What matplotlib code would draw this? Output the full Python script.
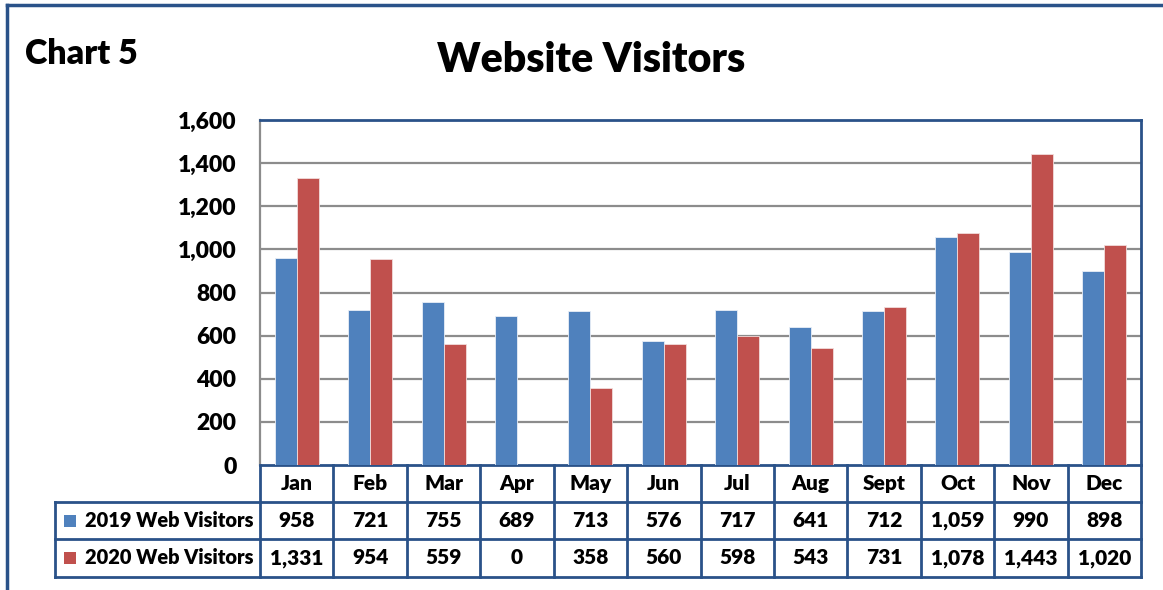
import matplotlib
matplotlib.use("Agg")
import matplotlib.pyplot as plt
import matplotlib.transforms as mtransforms
from matplotlib.patches import Rectangle
import numpy as np

months = ["Jan", "Feb", "Mar", "Apr", "May", "Jun", "Jul", "Aug", "Sept", "Oct", "Nov", "Dec"]
visitors_2019 = [958, 721, 755, 689, 713, 576, 717, 641, 712, 1059, 990, 898]
visitors_2020 = [1331, 954, 559, 0, 358, 560, 598, 543, 731, 1078, 1443, 1020]
series_names = ["2019 Web Visitors", "2020 Web Visitors"]
yticks = [0, 200, 400, 600, 800, 1000, 1200, 1400, 1600]

plt.rcParams['font.family'] = ['Lato', 'DejaVu Sans']
plt.rcParams['font.weight'] = 'bold'

W, H = 1163, 590
fig = plt.figure(figsize=(W / 100, H / 100), dpi=100)

blue = "#4F81BD"
red = "#C0504D"
navy = "#2A5289"
grid = "#8C8C8C"

ax = fig.add_axes([260 / W, 1 - 465 / H, (1141 - 260) / W, (465 - 120) / H])
x = np.arange(len(months))
bw = 0.3
ax.bar(x - bw / 2, visitors_2019, bw, color=blue, edgecolor="#E8EEF7", linewidth=0.6, zorder=3)
ax.bar(x + bw / 2, visitors_2020, bw, color=red, edgecolor="#F2DCDB", linewidth=0.6, zorder=3)
ax.set_xlim(-0.5, len(months) - 0.5)
ax.set_ylim(0, 1600)
ax.set_yticks(yticks)
ax.set_yticklabels([f"{v:,}" for v in yticks], fontsize=16.5, fontweight='heavy')
ax.set_xticks([])
ax.tick_params(axis='y', length=0, pad=17)
for v in yticks[1:-1]:
    ax.axhline(v, color=grid, linewidth=1.6, zorder=1)
ax.spines['left'].set_color(grid)
ax.spines['left'].set_linewidth(1.6)
for s in ['top', 'right', 'bottom']:
    ax.spines[s].set_color(navy)
    ax.spines[s].set_linewidth(2)

# Data table below the axes
trans = mtransforms.blended_transform_factory(ax.transData, ax.transAxes)
axh = 465 - 120
row_edges = [0, -37 / axh, -74 / axh, -112 / axh]
label_left = (55 - 260) / ((1141 - 260) / 12) - 0.5
lw = 2
kw = dict(transform=trans, color=navy, linewidth=lw, clip_on=False, solid_capstyle='projecting')
ax.plot([-0.5, 11.5], [row_edges[1]] * 2, **kw)
ax.plot([label_left, 11.5], [row_edges[2]] * 2, **kw)
ax.plot([label_left, 11.5], [row_edges[3]] * 2, **kw)
ax.plot([label_left, -0.5], [row_edges[1]] * 2, **kw)
for i in range(13):
    ax.plot([i - 0.5] * 2, [row_edges[0], row_edges[3]], **kw)
ax.plot([label_left] * 2, [row_edges[1], row_edges[3]], **kw)

fs = 15
for i, m in enumerate(months):
    yc = (row_edges[0] + row_edges[1]) / 2
    ax.text(i, yc, m, transform=trans, ha='center', va='center', fontsize=fs, fontweight='heavy')
for r, (vals, name, col) in enumerate(zip([visitors_2019, visitors_2020], series_names, [blue, red])):
    yc = (row_edges[r + 1] + row_edges[r + 2]) / 2
    for i, v in enumerate(vals):
        ax.text(i, yc, f"{v:,}", transform=trans, ha='center', va='center', fontsize=fs, fontweight='heavy')
    ax.text(-0.59, yc, name, transform=trans, ha='right', va='center', fontsize=14.4, fontweight='heavy')
    fig.patches.append(Rectangle((64 / W, 1 - (502 + 37 * r + 25) / H), 12 / W, 12 / H,
                                 transform=fig.transFigure, facecolor=col, edgecolor='none'))

# titles
fig.text(591 / W, 1 - 60 / H, "Website Visitors", ha='center', va='center', fontsize=29.5, fontweight='heavy')
fig.text(25 / W, 1 - 54 / H, "Chart 5", ha='left', va='center', fontsize=24.5, fontweight='heavy')

# outer frame
fig.add_artist(plt.Line2D([7 / W, 7 / W], [0, 1 - 5 / H], transform=fig.transFigure, color=navy, linewidth=2.5))
fig.add_artist(plt.Line2D([7 / W, 1], [1 - 5 / H, 1 - 5 / H], transform=fig.transFigure, color=navy, linewidth=2.5))

fig.savefig("out.png", dpi=100)
